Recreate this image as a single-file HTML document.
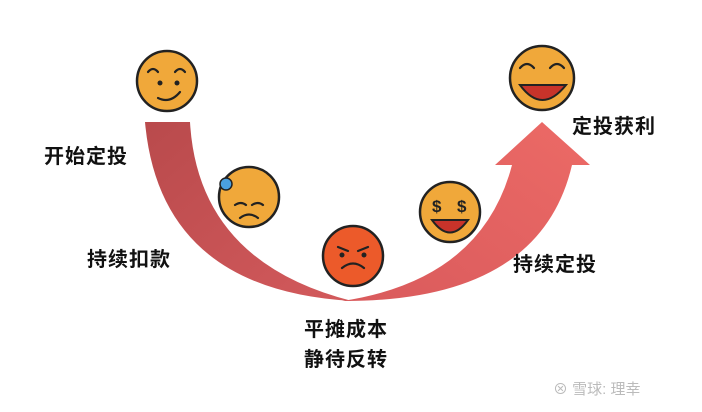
<!DOCTYPE html>
<html><head><meta charset="utf-8"><style>
body{margin:0;width:702px;height:412px;background:#fff;overflow:hidden;position:relative;font-family:"Liberation Sans","Noto Sans CJK SC",sans-serif}
.t{position:absolute;font-weight:bold;font-size:20px;color:#111;letter-spacing:1px}
</style></head><body>
<svg width="702" height="412" style="position:absolute;left:0;top:0">
<defs>
<linearGradient id="gl" x1="0" y1="0" x2="1" y2="1"><stop offset="0" stop-color="#b94a4c"/><stop offset="1" stop-color="#d35a5c"/></linearGradient>
<linearGradient id="gr" x1="0" y1="1" x2="1" y2="0"><stop offset="0" stop-color="#d95a5c"/><stop offset="1" stop-color="#ec6a66"/></linearGradient>
</defs>
<path d="M145,122 L190,122 Q198,262 352,301 Q160,290 145,122Z" fill="url(#gl)"/>
<path d="M342,301 Q540,302 572,165 L590,165 L542,122 L495,165 L512,165 Q482,280 342,301Z" fill="url(#gr)"/>
<g stroke="#222" stroke-width="2.5">
<circle cx="167" cy="81" r="30" fill="#f0a83a"/>
<circle cx="249" cy="197" r="30" fill="#f0a83a"/>
<circle cx="353" cy="256" r="30" fill="#ec5a2a"/>
<circle cx="450" cy="212" r="30" fill="#f0a83a"/>
<circle cx="542" cy="78" r="32" fill="#f0a83a"/>
</g>
<g stroke="#222" stroke-width="2.2" fill="none" stroke-linecap="round">
<path d="M148,72 q5,-6 10,0 M175,72 q5,-6 10,0 M158,98 q12,6 22,-6"/>
<path d="M235,205 q6,-4 11,0 M252,205 q6,-4 11,0 M240,218 q9,-7 18,0"/>
<path d="M338,247 l10,4 M368,247 l-10,4 M342,268 q11,-9 22,0"/>
<path d="M520,68 q7,-8 14,0 M550,68 q7,-8 14,0"/>
</g>
<circle cx="226" cy="184" r="6" fill="#4aa0e0" stroke="#222" stroke-width="1.5"/>
<circle cx="160" cy="83" r="2.5" fill="#222"/><circle cx="177" cy="83" r="2.5" fill="#222"/>
<circle cx="342" cy="255" r="2.5" fill="#222"/><circle cx="364" cy="255" r="2.5" fill="#222"/>
<path d="M520,85 Q542,115 566,85Z" fill="#c8332a" stroke="#222" stroke-width="2"/>
<path d="M432,220 Q450,245 468,220Z" fill="#c8332a" stroke="#222" stroke-width="2"/>
<text x="432" y="212" font-size="17" font-weight="bold" fill="#222" font-family="Liberation Sans">$</text>
<text x="457" y="212" font-size="17" font-weight="bold" fill="#222" font-family="Liberation Sans">$</text>
</svg>
<div class="t" style="left:44px;top:140px">开始定投</div>
<div class="t" style="left:87px;top:243px">持续扣款</div>
<div class="t" style="left:304px;top:313px">平摊成本</div>
<div class="t" style="left:304px;top:343px">静待反转</div>
<div class="t" style="left:513px;top:248px">持续定投</div>
<div class="t" style="left:572px;top:110px">定投获利</div>
<div style="position:absolute;left:553px;top:378px;font-size:15px;color:#bbb">⊗ 雪球: 理幸</div>
</body></html>
